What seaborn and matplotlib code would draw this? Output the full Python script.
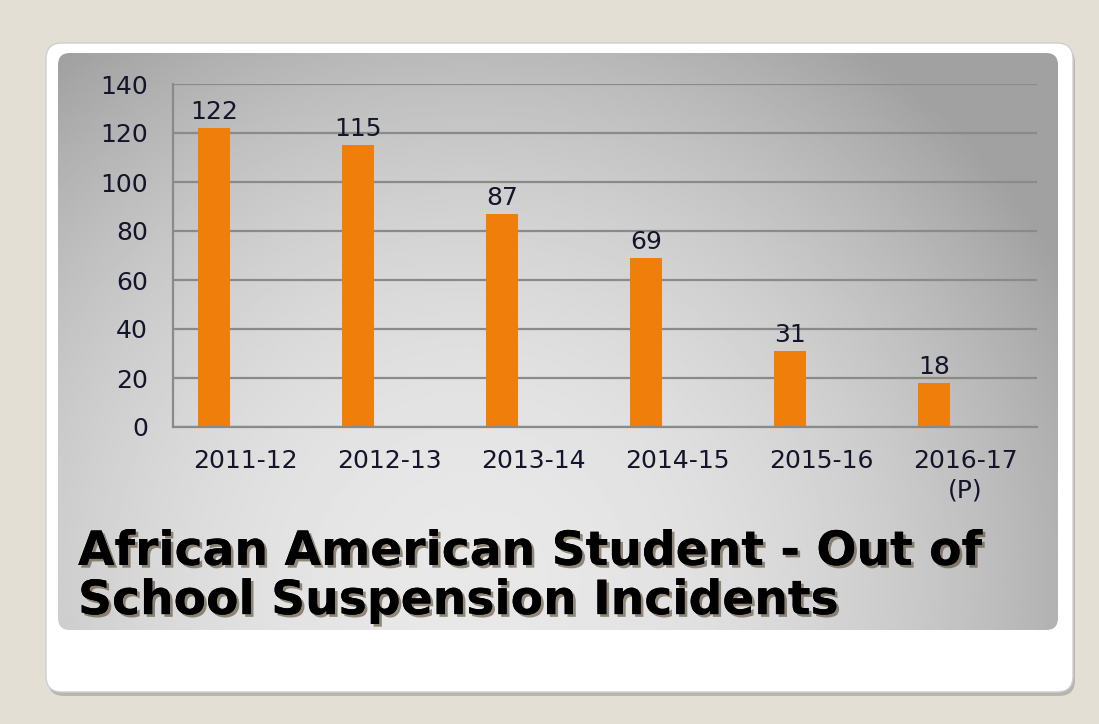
import numpy as np
import pandas as pd
import matplotlib.pyplot as plt
import matplotlib.patheffects as pe
from matplotlib.patches import FancyBboxPatch
import seaborn as sns

# Data ------------------------------------------------------------------------

seasons = ['2011-12', '2012-13', '2013-14', '2014-15', '2015-16', '2016-17\n(P)']
incidents = [122, 115, 87, 69, 31, 18]
y_ticks = [0, 20, 40, 60, 80, 100, 120, 140]
title = 'African American Student - Out of\nSchool Suspension Incidents'

# Excel left a blank second series, which pushes the bars to the left
df = pd.DataFrame({'season': seasons * 2,
                   'series': ['Incidents'] * 6 + ['blank'] * 6,
                   'value': incidents + [np.nan] * 6})

# Slide background ------------------------------------------------------------

W, H = 1099, 724
fig = plt.figure(figsize=(W / 100, H / 100), dpi=100)
fig.patch.set_facecolor('#e4dfd4')

bg = fig.add_axes([0, 0, 1, 1])
bg.set_xlim(0, W)
bg.set_ylim(H, 0)
bg.axis('off')

# card shadow + white card
bg.add_patch(FancyBboxPatch((48, 47), 1027, 649, boxstyle='round,pad=0,rounding_size=16',
                            fc='#a7a49c', ec='none', alpha=0.7, zorder=1))
bg.add_patch(FancyBboxPatch((46, 43), 1027, 649, boxstyle='round,pad=0,rounding_size=16',
                            fc='white', ec='#cfcfcf', lw=1, zorder=2))

# grey radial gradient panel
panel = FancyBboxPatch((58, 53), 1000, 577, boxstyle='round,pad=0,rounding_size=12',
                       fc='none', ec='none', zorder=3)
bg.add_patch(panel)
gx, gy = np.meshgrid(np.linspace(58, 1058, 500), np.linspace(53, 630, 300))
r = np.sqrt(((gx - 470) / 640) ** 2 + ((gy - 580) / 620) ** 2)
r = np.clip(r, 0, 1.06)
shade = 0.91 - 0.25 * r ** 2
img = bg.imshow(shade, cmap='gray', vmin=0, vmax=1, extent=(58, 1058, 630, 53),
                aspect='auto', zorder=3, interpolation='bilinear')
img.set_clip_path(panel)

# Chart -----------------------------------------------------------------------

sns.set_style('white')
text_col = '#14142a'
grid_col = '#8a8a8a'

ax = fig.add_axes([173 / W, 1 - 427 / H, 864 / W, 343 / H])
ax.set_facecolor('none')
ax.set_zorder(5)

sns.barplot(data=df, x='season', y='value', hue='series', order=seasons,
            hue_order=['Incidents', 'blank'], palette=['#ef7e0b', '#ef7e0b'],
            width=0.86, gap=0.47, dodge=True, legend=False, ax=ax,
            saturation=1, linewidth=0, err_kws={'linewidth': 0})

ax.bar_label(ax.containers[0], fontsize=18, padding=3, color=text_col)

ax.set_xlim(-0.5, len(seasons) - 0.5)
ax.set_ylim(0, 140)
ax.set_yticks(y_ticks)
ax.set_xlabel('')
ax.set_ylabel('')
ax.yaxis.grid(True, color=grid_col, lw=1.6)
ax.set_axisbelow(True)

for side in ['top', 'right']:
    ax.spines[side].set_visible(False)
for side in ['left', 'bottom']:
    ax.spines[side].set_color(grid_col)
    ax.spines[side].set_linewidth(1.6)

ax.tick_params(axis='y', length=7, width=1.6, color=grid_col, pad=11,
               labelsize=18, labelcolor=text_col)
ax.tick_params(axis='x', which='major', length=0, pad=16,
               labelsize=18, labelcolor=text_col)
ax.set_xticks(np.arange(-0.5, len(seasons)), minor=True)
ax.tick_params(axis='x', which='minor', length=7, width=1.6, color=grid_col)
for lab in ax.get_xticklabels():
    lab.set_linespacing(1.3)

# Title -----------------------------------------------------------------------

bg.text(78, 577, title, fontsize=34, fontweight='bold', color='black',
        va='center', ha='left', linespacing=1.12, zorder=6,
        path_effects=[pe.withSimplePatchShadow(offset=(2, -2), shadow_rgbFace='#4a3a20',
                                               alpha=0.55), pe.Normal()])

fig.savefig('out.png', dpi=100, facecolor=fig.get_facecolor())
